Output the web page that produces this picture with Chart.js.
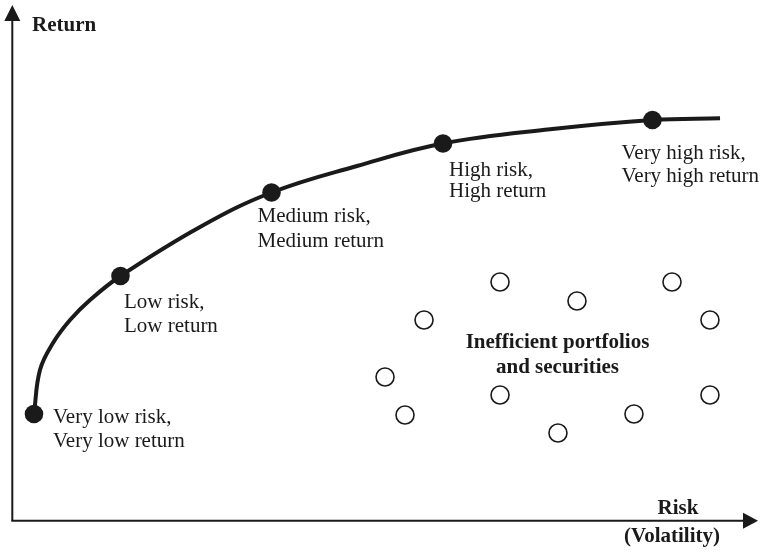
<!DOCTYPE html>
<html>
<head>
<meta charset="utf-8">
<script src="https://cdn.jsdelivr.net/npm/chart.js@4/dist/chart.umd.min.js"></script>
<style>
  html, body { margin: 0; padding: 0; background: #fff; }
  #wrap { width: 767px; height: 553px; position: relative; }
</style>
</head>
<body>
<div id="wrap"><canvas id="c" width="767" height="553"></canvas></div>
<script>
// ---- Data (risk = x, return = y, arbitrary 0-100 units) ----
const frontierRisk   = [2.97, 3.78, 5.54, 7.84, 10.54, 14.66, 25.41, 35.07, 46.62, 58.24, 72.70, 86.55, 95.68];
const frontierReturn = [20.98, 29.61, 34.90, 39.41, 43.33, 48.04, 57.65, 64.41, 69.61, 74.02, 76.80, 78.63, 78.96];

const keyRisk   = [2.97, 14.66, 35.07, 58.24, 86.55];
const keyReturn = [20.98, 48.04, 64.41, 74.02, 78.63];
const keyLabels = [
  ["Very low risk,", "Very low return"],
  ["Low risk,", "Low return"],
  ["Medium risk,", "Medium return"],
  ["High risk,", "High return"],
  ["Very high risk,", "Very high return"]
];

const inefRisk   = [65.95, 76.35, 89.19, 55.68, 94.32, 50.41, 65.95, 94.32, 53.11, 84.05, 73.78];
const inefReturn = [46.86, 43.14, 46.86, 39.41, 39.41, 28.24, 24.71, 24.71, 20.78, 20.98, 17.25];
const inefLabel  = ["Inefficient portfolios", "and securities"];

const yAxisTitle = "Return";
const xAxisTitle = ["Risk", "(Volatility)"];

// ---- Layout (pixel offsets for annotations) ----
const keyLabelOffsets = [
  { dx: 19, dy: 9, gap: 24 },
  { dx: 3.5, dy: 32, gap: 24 },
  { dx: -14, dy: 29, gap: 25 },
  { dx: 6, dy: 32.5, gap: 21.5 },
  { dx: -31, dy: 39.5, gap: 23 }
];

const toXY = (xs, ys) => xs.map((x, i) => ({ x: x, y: ys[i] }));

const ink = '#1a1a1a';
const serif = '"Liberation Serif", "Times New Roman", serif';

const annotations = {
  id: 'annotations',
  beforeDatasetsDraw(chart) {
    const ctx = chart.ctx;
    const a = chart.chartArea;
    const x0 = a.left + 0.3, y0 = a.bottom - 0.3;
    ctx.save();
    ctx.strokeStyle = ink;
    ctx.fillStyle = ink;
    ctx.lineWidth = 2;
    // y axis
    ctx.beginPath();
    ctx.moveTo(x0, y0);
    ctx.lineTo(x0, 20);
    ctx.stroke();
    ctx.beginPath();
    ctx.moveTo(x0, 5);
    ctx.lineTo(x0 - 8, 21);
    ctx.lineTo(x0 + 8, 21);
    ctx.closePath();
    ctx.fill();
    // x axis
    ctx.beginPath();
    ctx.moveTo(x0 - 1, y0);
    ctx.lineTo(744, y0);
    ctx.stroke();
    ctx.beginPath();
    ctx.moveTo(758, y0);
    ctx.lineTo(743, y0 - 8);
    ctx.lineTo(743, y0 + 8);
    ctx.closePath();
    ctx.fill();
    ctx.restore();
  },
  afterDatasetsDraw(chart) {
    const ctx = chart.ctx;
    const xs = chart.scales.x, ys = chart.scales.y;
    ctx.save();
    ctx.fillStyle = ink;
    ctx.textBaseline = 'alphabetic';
    // axis titles
    ctx.font = 'bold 21px ' + serif;
    ctx.textAlign = 'left';
    ctx.fillText(yAxisTitle, 32, 30.5);
    ctx.textAlign = 'center';
    ctx.fillText(xAxisTitle[0], 678, 514);
    ctx.fillText(xAxisTitle[1], 672, 541.5);
    // key labels
    ctx.font = '21px ' + serif;
    ctx.textAlign = 'left';
    keyLabels.forEach((lines, i) => {
      const px = xs.getPixelForValue(keyRisk[i]);
      const py = ys.getPixelForValue(keyReturn[i]);
      const o = keyLabelOffsets[i];
      lines.forEach((t, j) => ctx.fillText(t, px + o.dx, py + o.dy + j * o.gap));
    });
    // inefficient label, centered in the cloud
    const cx = (Math.min(...inefRisk) + Math.max(...inefRisk)) / 2;
    ctx.font = 'bold 21px ' + serif;
    ctx.textAlign = 'center';
    const lx = xs.getPixelForValue(cx) + 10;
    ctx.fillText(inefLabel[0], lx, 347.5);
    ctx.fillText(inefLabel[1], lx, 372.5);
    ctx.restore();
  }
};

new Chart(document.getElementById('c'), {
  type: 'scatter',
  data: {
    datasets: [
      {
        data: toXY(keyRisk, keyReturn),
        pointRadius: 9.3,
        pointBackgroundColor: ink,
        pointBorderColor: ink,
        pointBorderWidth: 0,
        showLine: false,
        clip: false,
        order: 0
      },
      {
        data: toXY(inefRisk, inefReturn),
        pointRadius: 9,
        pointBackgroundColor: '#fff',
        pointBorderColor: ink,
        pointBorderWidth: 1.6,
        showLine: false,
        clip: false,
        order: 1
      },
      {
        data: toXY(frontierRisk, frontierReturn),
        showLine: true,
        borderColor: ink,
        borderWidth: 4,
        pointRadius: 0,
        tension: 0.4,
        fill: false,
        clip: false,
        order: 2
      }
    ]
  },
  options: {
    responsive: false,
    animation: false,
    events: [],
    layout: { padding: { left: 12, right: 15, top: 11, bottom: 32 } },
    plugins: { legend: { display: false }, tooltip: { enabled: false } },
    scales: {
      x: { type: 'linear', min: 0, max: 100, display: false },
      y: { type: 'linear', min: 0, max: 100, display: false }
    }
  },
  plugins: [annotations]
});
</script>
</body>
</html>
